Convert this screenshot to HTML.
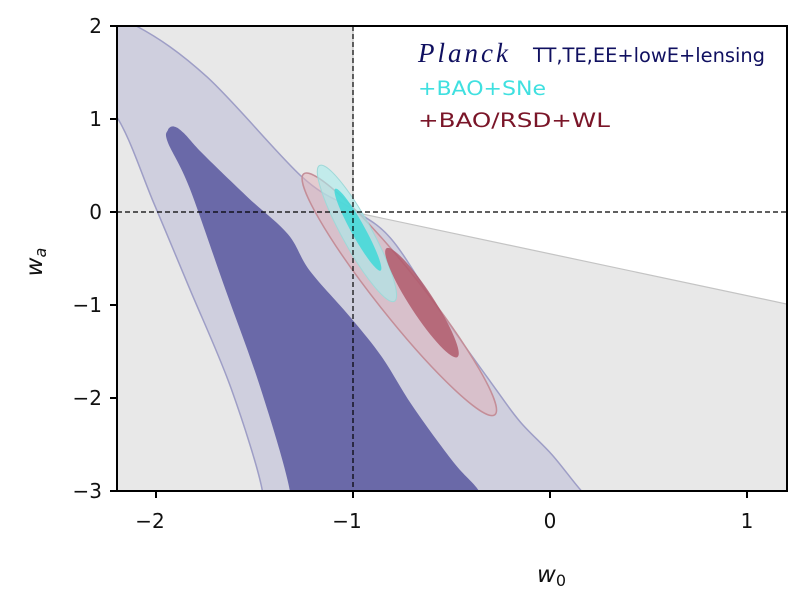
<!DOCTYPE html>
<html><head><meta charset="utf-8"><style>
html,body{margin:0;padding:0;background:#fff;}
svg text{font-family:"DejaVu Sans","Liberation Sans",sans-serif;}
</style></head><body>
<svg id="chart" width="800" height="591" viewBox="0 0 800 591" xmlns="http://www.w3.org/2000/svg">
<defs><clipPath id="plotclip"><rect x="117" y="26" width="670" height="465"/></clipPath></defs>
<g id="plot" clip-path="url(#plotclip)"></g>
<g id="axes"></g>
</svg>
<script>
const xTicks=[-2,-1,0,1];
const yTicks=[2,1,0,-1,-2,-3];
const xTickLabels=["\u22122","\u22121","0","1"];
const yTickLabels=["2","1","0","\u22121","\u22122","\u22123"];
const xDomain=[-2.198,1.203];
const yDomain=[-3,2];
// Planck outer (2-sigma) contour
const planckOuterW0=[-2.4,-2.10,-1.74,-1.26,-1.01,-0.81,-0.58,-0.28,-0.15,0.01,0.16,0.3,-1.5,-1.46,-1.62,-1.83,-2.01,-2.19,-2.4];
const planckOuterWa=[2.2,2,1.45,0.38,0.04,-0.28,-1.0,-1.89,-2.26,-2.61,-3,-3.3,-3.3,-3,-1.89,-0.82,0.09,0.99,1.5];
// Planck inner (1-sigma) contour
const planckInnerW0=[-1.91,-1.86,-1.76,-1.53,-1.33,-1.22,-1.01,-0.85,-0.70,-0.49,-0.36,-0.3,-1.35,-1.32,-1.47,-1.65,-1.83,-1.94,-1.94];
const planckInnerWa=[0.92,0.85,0.62,0.15,-0.24,-0.63,-1.14,-1.57,-2.08,-2.69,-3,-3.3,-3.3,-3,-1.89,-0.82,0.26,0.75,0.88];
// ellipses: end points (w0,wa) and half-width in data units of w0
const rsdOuterEnds=[[-1.25,0.41],[-0.28,-2.18]];
const rsdOuterHalfW=0.115;
const rsdInnerEnds=[[-0.83,-0.39],[-0.47,-1.56]];
const rsdInnerHalfW=0.06;
const sneOuterEnds=[[-1.17,0.5],[-0.79,-0.96]];
const sneOuterHalfW=0.075;
const sneInnerEnds=[[-1.09,0.25],[-0.86,-0.63]];
const sneInnerHalfW=0.035;
// excluded (grey) prior boundary: white allowed region
const allowedW0=[-1,1.203,1.203,-1];
const allowedWa=[2,2,-0.99,0];

const L=117,R=787,T=26,B=491;
const X=v=>L+(v-xDomain[0])/(xDomain[1]-xDomain[0])*(R-L);
const Y=v=>B-(v-yDomain[0])/(yDomain[1]-yDomain[0])*(B-T);
const NS="http://www.w3.org/2000/svg";
const plot=document.getElementById('plot'),axes=document.getElementById('axes');
function mk(tag,attrs,parent){const e=document.createElementNS(NS,tag);for(const k in attrs)e.setAttribute(k,attrs[k]);parent.appendChild(e);return e;}
function poly(xs,ys){return xs.map((v,i)=>X(v).toFixed(1)+','+Y(ys[i]).toFixed(1)).join(' ');}
function smooth(xs,ys){
  const p=xs.map((v,i)=>[X(v),Y(ys[i])]);const n=p.length;
  let d=`M${p[0][0]},${p[0][1]}`;
  for(let i=0;i<n;i++){
    const p0=p[(i-1+n)%n],p1=p[i],p2=p[(i+1)%n],p3=p[(i+2)%n];
    const c1=[p1[0]+(p2[0]-p0[0])/6,p1[1]+(p2[1]-p0[1])/6];
    const c2=[p2[0]-(p3[0]-p1[0])/6,p2[1]-(p3[1]-p1[1])/6];
    d+=` C${c1[0].toFixed(1)},${c1[1].toFixed(1)} ${c2[0].toFixed(1)},${c2[1].toFixed(1)} ${p2[0].toFixed(1)},${p2[1].toFixed(1)}`;
  }
  return d+'Z';
}

let e=mk('rect',{x:L,y:T,width:R-L,height:B-T,fill:'#e8e8e8'},plot);


e=mk('polygon',{points:poly(allowedW0,allowedWa),fill:'#ffffff',stroke:'#c4c4c4','stroke-width':1.2},plot);


e=mk('path',{d:smooth(planckOuterW0,planckOuterWa),fill:'#cfcfde',stroke:'#9e9ec6','stroke-width':1.5,'stroke-linejoin':'round'},plot);


e=mk('path',{d:smooth(planckInnerW0,planckInnerWa),fill:'#6a69a8'},plot);



function ellipse(ends,halfW,attrs,name){
  const x1=X(ends[0][0]),y1=Y(ends[0][1]),x2=X(ends[1][0]),y2=Y(ends[1][1]);
  const cx=(x1+x2)/2,cy=(y1+y2)/2,rx=Math.hypot(x2-x1,y2-y1)/2;
  const ry=halfW*(R-L)/(xDomain[1]-xDomain[0]);
  const ang=Math.atan2(y2-y1,x2-x1)*180/Math.PI;
  const el=mk('ellipse',Object.assign({cx:cx,cy:cy,rx:rx,ry:ry,transform:`rotate(${ang} ${cx} ${cy})`},attrs),plot);
  
  
}
ellipse(rsdOuterEnds,rsdOuterHalfW,{fill:'#e0b4bc','fill-opacity':0.55,stroke:'#c48e98','stroke-width':1.5},'rsd-wl-outer-contour');
ellipse(sneOuterEnds,sneOuterHalfW,{fill:'#a8ecec','fill-opacity':0.6,stroke:'#9fd8d8','stroke-width':1},'bao-sne-outer-contour');
ellipse(rsdInnerEnds,rsdInnerHalfW,{fill:'#b05a6c','fill-opacity':0.85},'rsd-wl-inner-contour');
ellipse(sneInnerEnds,sneInnerHalfW,{fill:'#40d8d8','fill-opacity':0.85},'bao-sne-inner-contour');

e=mk('line',{x1:L,x2:R,y1:Y(0),y2:Y(0),stroke:'#000','stroke-width':1.2,'stroke-dasharray':'5,3'},plot);


e=mk('line',{x1:X(-1),x2:X(-1),y1:T,y2:B,stroke:'#000','stroke-width':1.2,'stroke-dasharray':'5,3'},plot);



e=mk('rect',{x:L,y:T,width:R-L,height:B-T,fill:'none',stroke:'#000','stroke-width':2},axes);


xTicks.forEach((v,i)=>{
  let t=mk('line',{x1:X(v),x2:X(v),y1:B,y2:B+7,stroke:'#000','stroke-width':2},axes);
  
  
  let l=mk('text',{x:X(v)-(v<0?6:0),y:B+37,'text-anchor':'middle','font-size':20,fill:'#111'},axes);
  l.textContent=xTickLabels[i];
  
  
});
yTicks.forEach((v,i)=>{
  let t=mk('line',{x1:L-7,x2:L,y1:Y(v),y2:Y(v),stroke:'#000','stroke-width':2},axes);
  
  
  let l=mk('text',{x:L-15,y:Y(v)+7,'text-anchor':'end','font-size':20,fill:'#111'},axes);
  l.textContent=yTickLabels[i];
  
  
});
</script>
<svg style="position:absolute;left:0;top:0" width="800" height="591" xmlns="http://www.w3.org/2000/svg">
<text x="537" y="582" font-size="23" fill="#111" font-style="italic">w<tspan font-size="16" dy="4" font-style="normal">0</tspan></text>
<text transform="translate(42,262) rotate(-90)" font-size="23" fill="#111" font-style="italic" text-anchor="middle">w<tspan font-size="16" dy="4">a</tspan></text>
<g>
<text x="418" y="62" style="font-family:'Liberation Serif',serif;font-style:italic;font-size:27px;letter-spacing:3px" fill="#101060">Planck</text>
<text x="533" y="62" font-size="19.5" fill="#101060" textLength="232" lengthAdjust="spacingAndGlyphs">TT,TE,EE+lowE+lensing</text>
<text x="418" y="95" font-size="19.5" fill="#40e0e0" textLength="128" lengthAdjust="spacingAndGlyphs">+BAO+SNe</text>
<text x="418" y="127" font-size="19.5" fill="#7a1528" textLength="192" lengthAdjust="spacingAndGlyphs">+BAO/RSD+WL</text>
</g>
</svg>
</body></html>
